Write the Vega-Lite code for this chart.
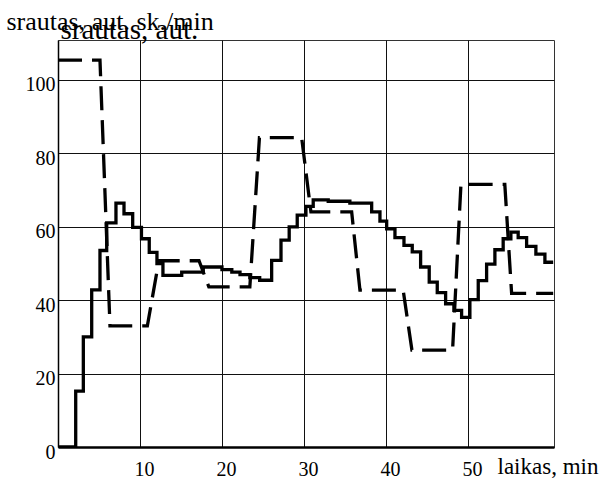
{
  "$schema": "https://vega.github.io/schema/vega-lite/v6.json",
  "width": 496,
  "height": 407,
  "autosize": {"type": "none"},
  "padding": {"left": 58, "top": 40, "right": 55, "bottom": 32},
  "background": "white",
  "config": {
    "view": {"stroke": "#333", "strokeWidth": 1},
    "font": "Liberation Serif, Times New Roman, DejaVu Serif, serif",
    "axis": {"labelFont": "Liberation Serif, Times New Roman, DejaVu Serif, serif", "titleFont": "Liberation Serif, Times New Roman, DejaVu Serif, serif"}
  },
  "datasets": {
    "solid": [
      {"t": 0, "q": 0}, {"t": 2.16, "q": 15.2}, {"t": 3.09, "q": 30}, {"t": 4.11, "q": 42.8},
      {"t": 5.12, "q": 53.5}, {"t": 5.94, "q": 61}, {"t": 7.07, "q": 66.4}, {"t": 8.05, "q": 63.5},
      {"t": 9.11, "q": 59.8}, {"t": 10.18, "q": 56.7}, {"t": 11.13, "q": 53}, {"t": 12.07, "q": 49.9},
      {"t": 12.8, "q": 46.7}, {"t": 15.09, "q": 47.6}, {"t": 17.72, "q": 49}, {"t": 20.0, "q": 48.3},
      {"t": 21.2, "q": 47.6}, {"t": 22.2, "q": 46.9}, {"t": 23.4, "q": 46.1}, {"t": 24.6, "q": 45.4},
      {"t": 26.06, "q": 50.8}, {"t": 27.2, "q": 56.3}, {"t": 28.2, "q": 59.9}, {"t": 29.18, "q": 63.1},
      {"t": 30.24, "q": 65.5}, {"t": 31.13, "q": 67.3}, {"t": 32.96, "q": 66.9}, {"t": 35.6, "q": 66.4},
      {"t": 38.26, "q": 64}, {"t": 39.27, "q": 61.5}, {"t": 40.09, "q": 59.4}, {"t": 41.1, "q": 57},
      {"t": 42.2, "q": 54.9}, {"t": 43.21, "q": 53.1}, {"t": 44.23, "q": 49}, {"t": 45.28, "q": 44.9},
      {"t": 46.26, "q": 42}, {"t": 47.28, "q": 39}, {"t": 48.29, "q": 37.2}, {"t": 49.23, "q": 35.3},
      {"t": 50.24, "q": 40.1}, {"t": 51.26, "q": 45.3}, {"t": 52.28, "q": 49.8}, {"t": 53.29, "q": 53.7},
      {"t": 54.3, "q": 56.7}, {"t": 55.24, "q": 58.5}, {"t": 56.13, "q": 57}, {"t": 57.16, "q": 54.6},
      {"t": 58.29, "q": 52.5}, {"t": 59.39, "q": 50.3}, {"t": 60.4, "q": 50.3}
    ],
    "dashed": [
      {"t": 0, "q": 105.3}, {"t": 5.12, "q": 105.3}, {"t": 6.34, "q": 33}, {"t": 10.9, "q": 33},
      {"t": 12.3, "q": 50.7}, {"t": 17.2, "q": 50.7}, {"t": 18.4, "q": 43.6}, {"t": 23.4, "q": 43.6},
      {"t": 24.57, "q": 84.2}, {"t": 29.72, "q": 84.2}, {"t": 30.85, "q": 64}, {"t": 35.82, "q": 64},
      {"t": 36.83, "q": 42.7}, {"t": 42.1, "q": 42.7}, {"t": 43.17, "q": 26.4}, {"t": 48.13, "q": 26.4},
      {"t": 49.15, "q": 71.5}, {"t": 54.5, "q": 71.5}, {"t": 55.33, "q": 41.8}, {"t": 60.4, "q": 41.8}
    ]
  },
  "resolve": {"axis": {"x": "independent"}},
  "layer": [
    {
      "data": {"name": "dashed"},
      "mark": {"type": "line", "color": "#000", "strokeWidth": 3.3, "strokeDash": [24, 10], "strokeCap": "butt", "clip": true},
      "encoding": {
        "x": {
          "field": "t",
          "type": "quantitative",
          "scale": {"domain": [0, 60.5], "nice": false, "zero": false},
          "axis": {
            "orient": "top",
            "labels": false,
            "ticks": false,
            "domain": false,
            "grid": false,
            "title": "srautas, aut.",
            "titleFontSize": 29,
            "titleFontWeight": "normal",
            "titleColor": "#000",
            "titleAnchor": "start",
            "titleAlign": "left",
            "titleBaseline": "alphabetic",
            "titleX": 2,
            "titleY": -2
          }
        },
        "y": {
          "field": "q",
          "type": "quantitative",
          "scale": {"domain": [0, 110.8], "nice": false, "zero": false},
          "axis": {
            "values": [0, 20, 40, 60, 80, 100],
            "grid": true,
            "gridColor": "#111",
            "gridWidth": 1,
            "gridOpacity": 1,
            "ticks": false,
            "tickSize": 0,
            "domainColor": "#000",
            "domainWidth": 1.5,
            "labelFontSize": 20,
            "labelColor": "#000",
            "labelPadding": 3,
            "labelOffset": 5,
            "labelFlush": false,
            "title": "srautas, aut. sk./min",
            "titleFontSize": 26,
            "titleFontWeight": "normal",
            "titleColor": "#000",
            "titleAngle": 0,
            "titleAlign": "left",
            "titleBaseline": "alphabetic",
            "titleX": -52,
            "titleY": -11
          }
        }
      }
    },
    {
      "data": {"name": "solid"},
      "mark": {"type": "line", "color": "#000", "strokeWidth": 3.3, "interpolate": "step-after", "clip": true},
      "encoding": {
        "x": {
          "field": "t",
          "type": "quantitative",
          "scale": {"domain": [0, 60.5], "nice": false, "zero": false},
          "axis": {
            "orient": "bottom",
            "values": [10, 20, 30, 40, 50],
            "grid": true,
            "gridColor": "#111",
            "gridWidth": 1,
            "gridOpacity": 1,
            "ticks": false,
            "tickSize": 0,
            "domainColor": "#000",
            "domainWidth": 2.5,
            "labelFontSize": 20,
            "labelColor": "#000",
            "labelPadding": 12,
            "labelOffset": 4,
            "labelFlush": false,
            "title": "laikas, min",
            "titleFontSize": 23,
            "titleFontWeight": "normal",
            "titleColor": "#000",
            "titleAnchor": "start",
            "titleAlign": "left",
            "titleBaseline": "alphabetic",
            "titleX": 439,
            "titleY": 26
          }
        },
        "y": {"field": "q", "type": "quantitative"}
      }
    }
  ]
}
